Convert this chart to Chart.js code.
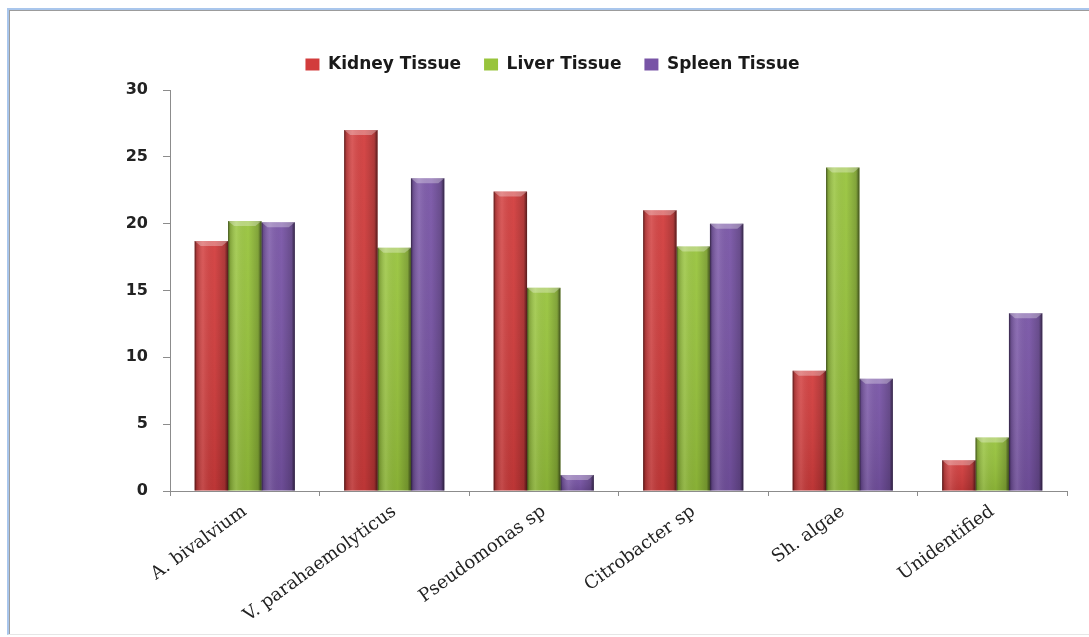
<!DOCTYPE html>
<html>
<head>
<meta charset="utf-8">
<script src="https://cdn.jsdelivr.net/npm/chart.js@4"></script>
<style>
  html, body { margin: 0; padding: 0; background: #fff; overflow: hidden; }
  #wrap { position: relative; width: 1089px; height: 637px; }
  #wrap canvas { position: absolute; left: 0; top: 0; }
  #frame {
    position: absolute; left: 7px; top: 8px; width: 1100px; height: 624px;
    border-top: 2px solid #a9c6ec; border-left: 2px solid #a9c6ec;
    border-bottom: 1px solid #e6e6e6;
    box-shadow: inset 1px 1px 0 #9c9c9c; pointer-events: none;
  }
</style>
</head>
<body>
<div id="wrap">
  <canvas id="chart" width="1089" height="637"></canvas>
  <div id="frame"></div>
</div>
<script>
// Bacterial isolates recovered per tissue
const categories = ['A. bivalvium', 'V. parahaemolyticus', 'Pseudomonas sp', 'Citrobacter sp', 'Sh. algae', 'Unidentified'];
const kidneyTissue = [18.7, 27.0, 22.4, 21.0, 9.0, 2.3];
const liverTissue  = [20.2, 18.2, 15.2, 18.3, 24.2, 4.0];
const spleenTissue = [20.1, 23.4, 1.2, 20.0, 8.4, 13.3];
const seriesNames = ['Kidney Tissue', 'Liver Tissue', 'Spleen Tissue'];
const yTickValues = [0, 5, 10, 15, 20, 25, 30];

const AXIS_GREY = '#8c8c8c';

// Cylinder-like shading and a bevelled cap on every bar
const barShading = {
  id: 'barShading',
  afterDatasetsDraw(chart) {
    const ctx = chart.ctx;
    chart.data.datasets.forEach((ds, i) => {
      const meta = chart.getDatasetMeta(i);
      if (meta.hidden) return;
      meta.data.forEach(bar => {
        const { x, y, base, width } = bar.getProps(['x', 'y', 'base', 'width'], true);
        const l = x - width / 2, r = x + width / 2, h = base - y;
        if (h <= 0) return;
        ctx.save();
        // slightly darker towards the base
        const v = ctx.createLinearGradient(0, y, 0, base);
        v.addColorStop(0, 'rgba(255,255,255,0.06)');
        v.addColorStop(1, 'rgba(0,0,0,0.10)');
        ctx.fillStyle = v;
        ctx.fillRect(l, y, width, h);
        // rounded sides
        const g = ctx.createLinearGradient(l, 0, r, 0);
        g.addColorStop(0, 'rgba(0,0,0,0.60)');
        g.addColorStop(0.06, 'rgba(0,0,0,0.18)');
        g.addColorStop(0.25, 'rgba(255,255,255,0.10)');
        g.addColorStop(0.6, 'rgba(0,0,0,0)');
        g.addColorStop(0.9, 'rgba(0,0,0,0.18)');
        g.addColorStop(1, 'rgba(0,0,0,0.60)');
        ctx.fillStyle = g;
        ctx.fillRect(l, y, width, h);
        // bevelled cap
        const b = Math.min(5, h / 2);
        ctx.beginPath();
        ctx.moveTo(l, y);
        ctx.lineTo(r, y);
        ctx.lineTo(r - b - 1, y + b);
        ctx.lineTo(l + b + 1, y + b);
        ctx.closePath();
        ctx.fillStyle = 'rgba(255,255,255,0.30)';
        ctx.fill();
        ctx.restore();
      });
    });
  }
};

new Chart(document.getElementById('chart'), {
  type: 'bar',
  data: {
    labels: categories,
    datasets: [
      { label: seriesNames[0], data: kidneyTissue, backgroundColor: '#d23c3c' },
      { label: seriesNames[1], data: liverTissue,  backgroundColor: '#98c43c' },
      { label: seriesNames[2], data: spleenTissue, backgroundColor: '#7854a6' }
    ]
  },
  options: {
    responsive: false,
    animation: false,
    devicePixelRatio: 1,
    layout: { padding: { top: 33, left: 38, right: 22, bottom: 0 } },
    datasets: { bar: { categoryPercentage: 0.67, barPercentage: 1.0, borderWidth: 0 } },
    plugins: {
      legend: {
        position: 'top',
        labels: {
          boxWidth: 14, boxHeight: 12, padding: 23, color: '#1a1a1a',
          font: { family: 'DejaVu Sans', weight: 'bold', size: 17 }
        }
      },
      subtitle: {
        display: true, text: '', weight: 500,
        padding: { top: 0, bottom: 6 },
        font: { size: 1, lineHeight: 1 }
      },
      tooltip: { enabled: false }
    },
    scales: {
      x: {
        grid: { offset: true, drawOnChartArea: false, drawTicks: true, tickLength: 5, color: AXIS_GREY },
        border: { color: AXIS_GREY },
        ticks: {
          autoSkip: false, maxRotation: 36, minRotation: 36, padding: 5, color: '#222',
          font: { family: 'DejaVu Serif', size: 18 }
        },
        afterFit(scale) { scale.height = 146; }
      },
      y: {
        min: 0, max: 30,
        grid: { drawOnChartArea: false, drawTicks: true, tickLength: 7, color: AXIS_GREY },
        border: { color: AXIS_GREY },
        ticks: {
          padding: 15, color: '#222',
          font: { family: 'DejaVu Sans', weight: 'bold', size: 16 }
        },
        afterBuildTicks(scale) { scale.ticks = yTickValues.map(v => ({ value: v })); },
        afterFit(scale) { scale.width = 132; }
      }
    }
  },
  plugins: [barShading]
});
</script>
</body>
</html>
